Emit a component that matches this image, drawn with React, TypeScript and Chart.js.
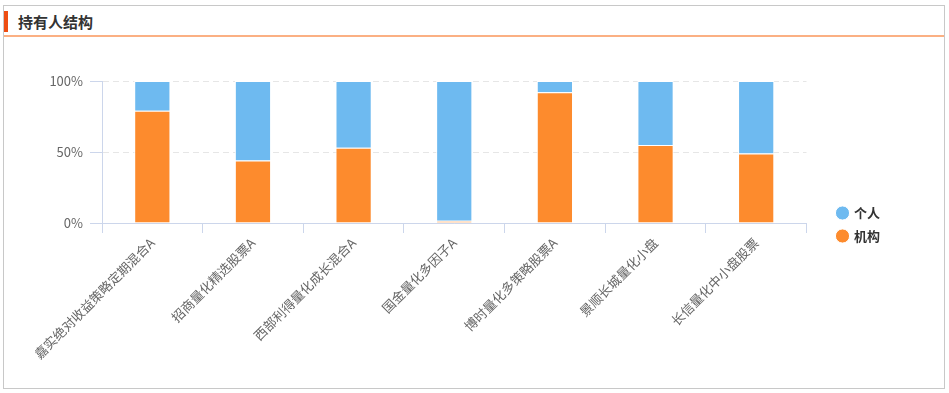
import React, { useEffect, useRef } from "react";
import { Chart, registerables } from "chart.js";

Chart.register(...registerables);

const categories = [
  "嘉实绝对收益策略定期混合A",
  "招商量化精选股票A",
  "西部利得量化成长混合A",
  "国金量化多因子A",
  "博时量化多策略股票A",
  "景顺长城量化小盘",
  "长信量化中小盘股票",
];
const institutional = [79, 44, 53, 1.5, 92, 55, 49];
const individual = [21, 56, 47, 98.5, 8, 45, 51];
const seriesNames = ["机构", "个人"];
const yMin = 0;
const yMax = 100;
const yStep = 50;

const FONT = '"Microsoft YaHei", "Noto Sans CJK SC", "Noto Sans", sans-serif';

export default function App() {
  const ref = useRef<HTMLCanvasElement | null>(null);

  useEffect(() => {
    if (!ref.current) return;
    const chart = new Chart(ref.current, {
      type: "bar",
      data: {
        labels: categories,
        datasets: [
          {
            label: seriesNames[0],
            data: institutional,
            backgroundColor: "#fd8b2d",
            borderColor: "#ffffff",
            borderWidth: 1,
            barPercentage: 0.36,
            categoryPercentage: 1,
          },
          {
            label: seriesNames[1],
            data: individual,
            backgroundColor: "#6ebaf0",
            borderColor: "#ffffff",
            borderWidth: 1,
            barPercentage: 0.36,
            categoryPercentage: 1,
          },
        ],
      },
      options: {
        responsive: false,
        animation: false,
        font: { family: FONT },
        layout: { padding: { top: 41, left: 0, right: 53, bottom: 20 } },
        plugins: {
          tooltip: { enabled: false },
          legend: {
            position: "right",
            reverse: true,
            labels: {
              usePointStyle: true,
              pointStyle: "circle",
              boxWidth: 10,
              boxHeight: 10,
              padding: 10,
              color: "#333",
              font: { family: FONT, size: 13, weight: "bold" },
            },
          },
        },
        scales: {
          x: {
            stacked: true,
            offset: true,
            grid: {
              display: true,
              drawOnChartArea: false,
              tickLength: 10,
              tickColor: "#ccd6eb",
              offset: true,
            },
            border: { display: true, color: "#ccd6eb" },
            ticks: {
              autoSkip: false,
              minRotation: 45,
              maxRotation: 45,
              padding: 2,
              color: "#666",
              font: { family: FONT, size: 13 },
            },
            afterFit: (scale: any) => {
              scale.paddingLeft = 0;
              scale.paddingRight = 0;
              scale.height = 145;
            },
          },
          y: {
            stacked: true,
            min: yMin,
            max: yMax,
            ticks: {
              stepSize: yStep,
              padding: 7,
              color: "#666",
              font: { family: FONT, size: 13 },
              callback: (v: any) => v + "%",
            },
            grid: {
              color: "#e6e6e6",
              tickLength: 12,
              tickColor: "#ccd6eb",
              tickBorderDash: [],
            },
            border: { display: true, color: "#ccd6eb", dash: [6, 4] },
            afterFit: (scale: any) => {
              scale.width = 67;
            },
          },
          yRight: {
            type: "linear",
            position: "right",
            display: true,
            grid: { display: false },
            border: { display: false },
            ticks: { display: false },
            afterFit: (scale: any) => {
              scale.width = 21;
            },
          },
        },
      } as any,
    });
    return () => chart.destroy();
  }, []);

  return (
    <div style={{ position: "absolute", left: 0, top: 0, width: 949, height: 393, background: "#fff" }}>
      <div
        style={{
          position: "absolute",
          left: 3,
          top: 5,
          width: 942,
          height: 384,
          boxSizing: "border-box",
          border: "1px solid #c8c8c8",
        }}
      />
      <div style={{ position: "absolute", left: 4, top: 11, width: 4, height: 21, background: "#ee4d12" }} />
      <div
        style={{
          position: "absolute",
          left: 18,
          top: 12,
          height: 20,
          lineHeight: "20px",
          fontFamily: FONT,
          fontWeight: "bold",
          fontSize: 15,
          color: "#333",
        }}
      >
        持有人结构
      </div>
      <div style={{ position: "absolute", left: 4, top: 35, width: 940, height: 2, background: "#fbb083" }} />
      <canvas
        ref={ref}
        width={908}
        height={348}
        style={{ position: "absolute", left: 35, top: 40, width: 908, height: 348 }}
      />
    </div>
  );
}
